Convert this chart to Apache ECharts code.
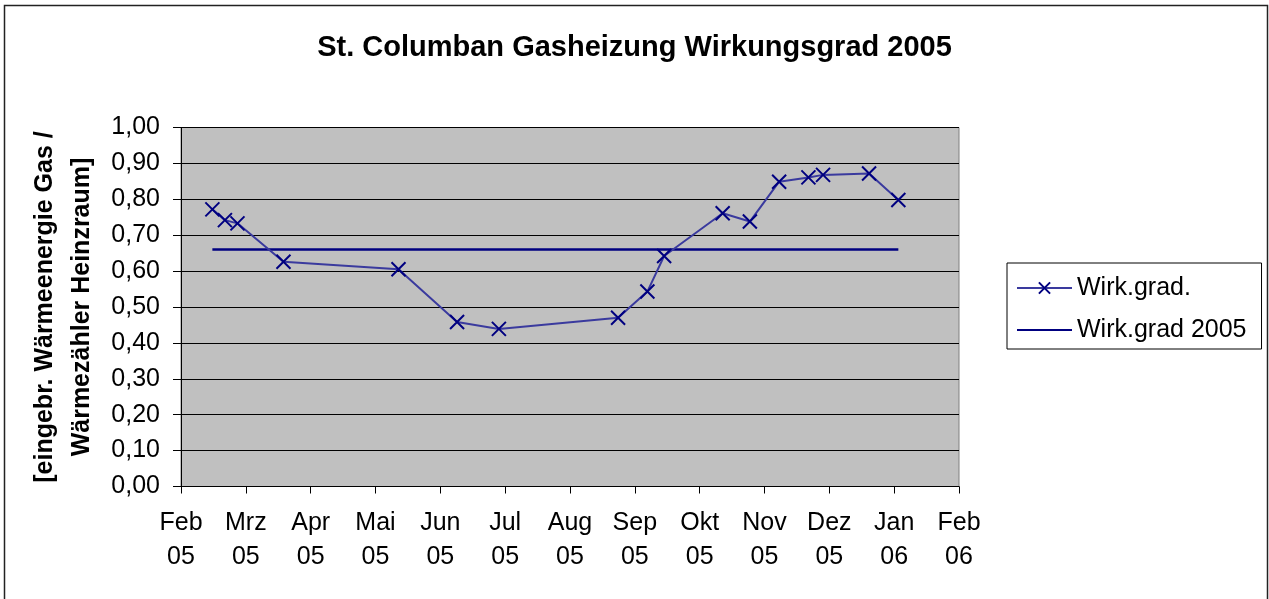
<!DOCTYPE html>
<html lang="de">
  <head>
    <meta charset="UTF-8" />
    <title>St. Columban Gasheizung Wirkungsgrad 2005</title>
    <style>
      * {
        margin: 0;
        padding: 0;
      }
      body {
        background: #fff;
      }
    </style>
  </head>
  <body>
    <div id="main" style="width: 1269px; height: 599px;"></div>
    <script src="https://cdn.jsdelivr.net/npm/echarts@6/dist/echarts.min.js"></script>
    <script>
      let datum = [
        "2005-02-16", "2005-02-22", "2005-02-28", "2005-03-22", "2005-05-16",
        "2005-06-13", "2005-07-03", "2005-08-29", "2005-09-12", "2005-09-20",
        "2005-10-18", "2005-10-31", "2005-11-14", "2005-11-28", "2005-12-05",
        "2005-12-27", "2006-01-10",
      ];
      let wirkgrad = [
        0.772, 0.742, 0.733, 0.626, 0.605,
        0.458, 0.439, 0.47, 0.543, 0.642,
        0.761, 0.738, 0.849, 0.861, 0.868,
        0.872, 0.798,
      ];
      // Mittelwert 2005 (waagrechte Linie vom ersten bis zum letzten Datum)
      let mittelDatum = ["2005-02-16", "2006-01-10"];
      let mittelWert = [0.66, 0.66];
      // Achsenbeschriftung
      let monate = ["Jan", "Feb", "Mrz", "Apr", "Mai", "Jun", "Jul", "Aug", "Sep", "Okt", "Nov", "Dez"];

      const START = Date.UTC(2005, 1, 1);
      const TAG = 86400000;
      // Datum -> Tage seit 1.2.2005
      function tage(s) {
        let p = s.split("-");
        return (Date.UTC(+p[0], +p[1] - 1, +p[2]) - START) / TAG;
      }
      function paare(d, v) {
        return d.map(function (x, i) {
          return [tage(x), v[i]];
        });
      }

      const FONT = "'Liberation Sans', Arial, sans-serif";
      const KREUZ = "path://M0,0L10,10M10,0L0,10";

      let myEcharts = echarts.init(document.getElementById("main"));
      let option = {
        animation: false,
        textStyle: { fontFamily: FONT },
        title: {
          text: "St. Columban Gasheizung Wirkungsgrad 2005",
          left: "center",
          top: 28,
          textStyle: { fontFamily: FONT, fontSize: 29, fontWeight: "bold", color: "#000" },
        },
        // Rahmen um das ganze Diagramm
        graphic: [
          {
            type: "rect",
            shape: { x: 4.5, y: 5.5, width: 1263, height: 610 },
            style: { fill: "none", stroke: "#222", lineWidth: 1.5 },
            silent: true,
          },
        ],
        legend: {
          orient: "vertical",
          left: 1007,
          top: 263,
          padding: [11, 15, 5, 9],
          itemWidth: 55,
          itemHeight: 14,
          itemGap: 14,
          backgroundColor: "#fff",
          borderColor: "#000",
          borderWidth: 1,
          textStyle: { fontFamily: FONT, fontSize: 25, color: "#000", lineHeight: 28 },
          data: [
            { name: "Wirk.grad." },
            { name: "Wirk.grad 2005", itemStyle: { opacity: 0 } },
          ],
        },
        grid: {
          left: 181,
          right: 310,
          top: 127.5,
          bottom: 112.5,
          show: true,
          backgroundColor: "#c0c0c0",
          borderColor: "#808080",
          borderWidth: 1,
        },
        xAxis: {
          type: "value",
          min: 0,
          max: 372,
          interval: 31,
          axisLine: { lineStyle: { color: "#000", width: 1 } },
          axisTick: { show: true, length: 7, lineStyle: { color: "#000" } },
          splitLine: { show: false },
          axisLabel: {
            margin: 20,
            fontFamily: FONT,
            fontSize: 25,
            lineHeight: 34,
            color: "#000",
            formatter: function (v) {
              let d = new Date(START + v * TAG);
              return monate[d.getUTCMonth()] + "\n" + String(d.getUTCFullYear()).slice(2);
            },
          },
        },
        yAxis: {
          type: "value",
          min: 0,
          max: 1,
          interval: 0.1,
          name: "[eingebr. Wärmeenergie Gas /\nWärmezähler Heinzraum]",
          nameLocation: "middle",
          nameRotate: 90,
          nameGap: 80,
          nameTextStyle: { fontFamily: FONT, fontSize: 25, fontWeight: "bold", color: "#000", lineHeight: 37 },
          axisLine: { show: true, lineStyle: { color: "#000", width: 1 } },
          axisTick: { show: true, length: 8, lineStyle: { color: "#000" } },
          splitLine: { lineStyle: { color: "#000", width: 1 } },
          axisLabel: {
            margin: 21,
            fontFamily: FONT,
            fontSize: 25,
            color: "#000",
            formatter: function (v) {
              return v.toFixed(2).replace(".", ",");
            },
          },
        },
        series: [
          {
            name: "Wirk.grad.",
            type: "line",
            data: paare(datum, wirkgrad),
            symbol: KREUZ,
            symbolSize: 14,
            showAllSymbol: true,
            itemStyle: { color: "#000080", borderColor: "#000080", borderWidth: 2 },
            lineStyle: { color: "#3a3a9e", width: 2 },
            z: 3,
          },
          {
            name: "Wirk.grad 2005",
            type: "line",
            data: paare(mittelDatum, mittelWert),
            symbol: "none",
            itemStyle: { color: "#000080" },
            lineStyle: { color: "#000080", width: 2.5 },
            z: 2,
          },
        ],
      };
      myEcharts.setOption(option);
    </script>
  </body>
</html>
